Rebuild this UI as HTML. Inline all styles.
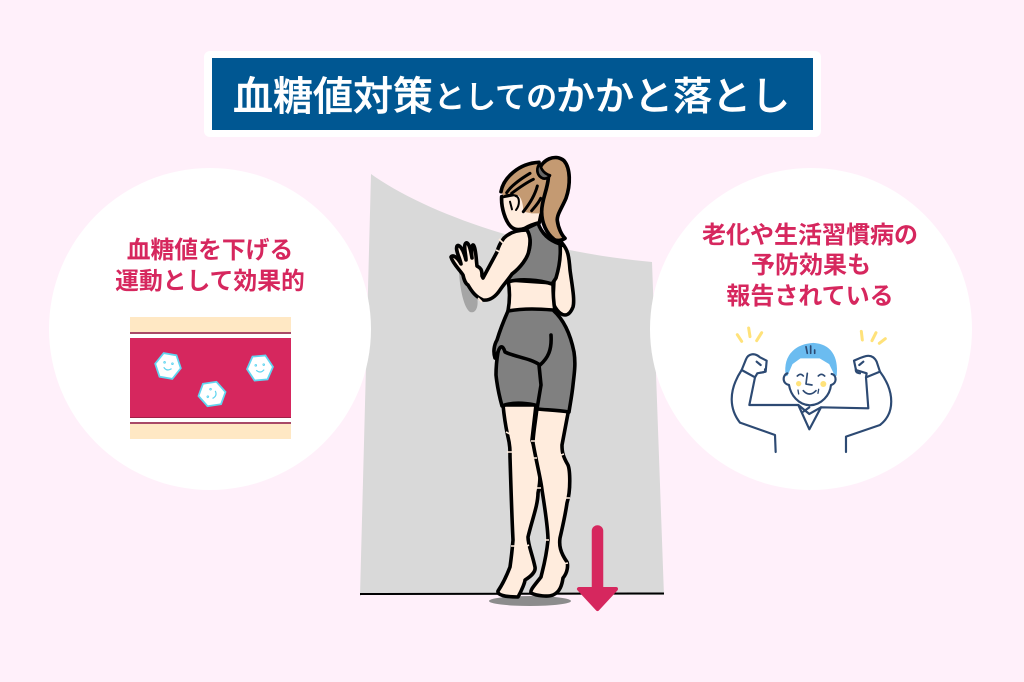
<!DOCTYPE html>
<html lang="ja"><head><meta charset="utf-8"><style>
html,body{margin:0;padding:0;background:#fff0fa}
svg{display:block}
text{font-family:"Liberation Sans","Noto Sans CJK JP",sans-serif;font-weight:700}
.t text{font-weight:500;stroke:#fff;stroke-width:.5}
</style></head><body>
<svg width="1024" height="682" viewBox="0 0 1024 682" xmlns="http://www.w3.org/2000/svg">
<rect width="1024" height="682" fill="#fff0fa"/>
<path d="M371 174 C430 216 540 252 652 262 L664 596 L360 596 Z" fill="#d9d9d9"/>
<circle cx="210" cy="329" r="161" fill="#fff"/>
<circle cx="811" cy="329" r="161" fill="#fff"/>
<rect x="204" y="51" width="617" height="86" rx="6" fill="#fff"/>
<rect x="212" y="58" width="601" height="72" fill="#005792"/>
<g class="t" fill="#fff">
<text y="110" font-size="40" x="233">血糖値対策</text>
<text y="108" font-size="31" x="434">としての</text>
<text y="110" font-size="39" x="556">かかと落とし</text>
</g>

<g fill="#d6275e" font-size="23.8" text-anchor="middle">
<text x="210" y="258">血糖値を下げる</text>
<text x="210" y="289">運動として効果的</text>
<text x="810" y="243" font-size="24">老化や生活習慣病の</text>
<text x="811" y="273" font-size="24">予防効果も</text>
<text x="810" y="304" font-size="24">報告されている</text>
</g>

<!-- vessel -->
<rect x="130" y="317" width="161" height="122" fill="#ffe8c4"/>
<rect x="130" y="332" width="161" height="2" fill="#a84a68"/>
<rect x="130" y="334" width="161" height="4" fill="#fff"/>
<rect x="130" y="338" width="161" height="80" fill="#d6275e"/>
<rect x="130" y="417" width="161" height="1" fill="#a02048"/>
<rect x="130" y="418" width="161" height="4" fill="#fff"/>
<rect x="130" y="422" width="161" height="2" fill="#a84a68"/>
<g fill="#fff" stroke="#62d5f0" stroke-width="1.8">
<g transform="translate(168,366) rotate(10)"><path d="M-13 0 L-6.5 -12 L6.5 -12 L13 0 L6.5 12 L-6.5 12 Z"/><circle cx="-4" cy="-3" r=".8" stroke-width="1"/><circle cx="4" cy="-3" r=".8" stroke-width="1"/><path d="M-4 2 Q0 6 4 2" fill="none" stroke-width="1.2"/></g>
<g transform="translate(212,394) rotate(-70)"><path d="M-13 0 L-6.5 -12 L6.5 -12 L13 0 L6.5 12 L-6.5 12 Z"/><circle cx="-4" cy="-3" r=".8" stroke-width="1"/><circle cx="4" cy="-3" r=".8" stroke-width="1"/><path d="M-4 2 Q0 6 4 2" fill="none" stroke-width="1.2"/></g>
<g transform="translate(260,368) rotate(-5)"><path d="M-13 0 L-6.5 -12 L6.5 -12 L13 0 L6.5 12 L-6.5 12 Z"/><circle cx="-4" cy="-3" r=".8" stroke-width="1"/><circle cx="4" cy="-3" r=".8" stroke-width="1"/><path d="M-4 2 Q0 6 4 2" fill="none" stroke-width="1.2"/></g>
</g>

<!-- man -->
<g transform="translate(720,320) scale(.3333)" fill="none" stroke="#2d4a73" stroke-width="6.5" stroke-linecap="round" stroke-linejoin="round">
<g stroke="#ffe27a" stroke-width="9"><path d="M52 44 L65 64"/><path d="M86 24 L90 50"/><path d="M125 38 L110 62"/><path d="M424 34 L427 60"/><path d="M468 38 L456 62"/><path d="M496 56 L478 70"/></g>
<path d="M200 165 C192 100 235 75 280 72 C330 75 352 110 347 165 L330 130 L300 112 L240 112 L215 130 Z" fill="#6bbcf0" stroke="#6bbcf0"/>
<path d="M202 160 C188 165 185 190 207 195 C212 225 235 255 270 256 C305 255 330 225 333 195 C352 190 350 165 335 162" />
<circle cx="236" cy="191" r="8" fill="#ffe27a" stroke="none"/><circle cx="310" cy="192" r="9" fill="#ffe27a" stroke="none"/>
<path d="M232 168 Q242 158 250 168 M295 168 Q304 158 314 168 M262 160 L258 192 L276 195 M250 212 Q268 232 288 212" stroke-width="5"/>
<path d="M234 210 L236 222 M296 208 L294 220" stroke-width="4"/>
<path d="M258 80 L262 100 M272 78 L272 100 M284 90 L284 100" stroke-width="5"/>
<path d="M167 396 L165 345 L60 308 C30 270 22 215 65 150 L105 172 L88 255 L235 255 L268 328 L303 262 L445 265 L438 172 L480 155 C525 215 525 280 480 315 L378 350 L378 396"/>
<path d="M235 255 L268 282 L303 262 M250 275 L268 262"/>
<path d="M65 150 L78 118 C85 100 105 98 120 112 L140 122 L137 155 L112 160 L105 172"/>
<path d="M438 172 L440 160 L408 150 L402 122 C430 110 455 95 470 125 L480 155"/>
<path d="M122 135 L110 125 M418 135 L430 125 M408 148 Q405 158 420 160 M135 148 Q138 158 122 158"/>
</g>

<!-- wall shadow -->
<path d="M459 272 C460 290 464 308 470 312 C476 314 479 306 477 297 L468 272 Z" fill="#a5a5a5"/>
<!-- ground -->
<rect x="361" y="595" width="304" height="87" fill="#fff0fa"/>
<path d="M360 594 L664 593.5" stroke="#000" stroke-width="2" fill="none"/>
<ellipse cx="530" cy="601" rx="41" ry="5" fill="#8c8c8c"/>

<!-- figure -->
<g stroke="#000" stroke-width="3.6" stroke-linejoin="round" stroke-linecap="round">
<path d="M503 405 C505 425 507 432 508 437 C510 445 510 450 510 457 C511 490 512 520 513 540 C512 552 511 560 510 567 C505 580 500 588 498 591 C497 595 505 597 518 597 C522 590 525 582 525 580 C530 577 536 572 535 567 C532 553 528 545 528 537 C532 520 538 505 538 493 C541 480 540 470 540 465 C537 452 533 445 532 440 L536 405 Z" fill="#ffecdd"/>
<path d="M537 408 C535 425 533 435 533 443 C537 465 541 480 542 490 C546 515 548 530 548 540 C546 560 542 572 541 577 C534 586 530 590 531 593 C537 596 548 597 553 595 C560 592 562 585 563 578 C568 572 568 565 567 562 C560 552 559 545 560 538 C563 525 566 510 567 503 C571 490 570 470 568 465 C562 455 562 450 562 445 L569 408 Z" fill="#ffecdd"/>
<path d="M562 243 C568 250 569 256 570 270 C572 285 575 300 573 307 C571 312 568 315 565 315 C560 315 553 307 553 300 L555 260 Z" fill="#ffecdd"/>
<path d="M508 280 L553 283 C553 295 554 305 555 311 L508 311 C510 300 510 290 508 280 Z" fill="#ffecdd"/>
<path d="M525 229 L538 223 C541 232 548 240 560 244 C561 255 559 268 556 278 L552 284 C540 280 520 278 508 282 C508 276 512 272 518 268 C526 260 531 250 530 240 Z" fill="#808080"/>
<path d="M527 230 C518 230 510 232 504 238 C500 243 498 248 497 252 L483 278 L482 276 C482 268 480 268 477 266 C476 258 476 250 474 246 C472 242 471 250 472 258 C470 246 468 242 466 243 C463 245 466 254 466 260 C463 248 459 244 457 246 C455 250 460 258 461 264 C458 258 453 254 451 257 C453 264 460 270 463 275 C464 280 466 284 468 285 C472 292 476 297 483 300 C490 301 496 296 500 290 C504 284 508 280 512 274 C520 268 528 258 529 250 C531 240 530 235 527 230 Z" fill="#ffecdd"/>
<path d="M508 311 C525 308 540 309 553 310 C562 318 570 332 574 352 C576 365 574 375 573 385 C572 395 570 405 569 412 C558 410 547 410 537 409 L535 405 C525 403 512 402 502 406 C499 395 497 385 496 375 C496 365 497 358 498 352 L495 358 C493 352 494 345 497 340 C500 330 504 320 508 311 Z" fill="#808080"/>
<path d="M498 352 C500 345 503 345 505 352 C515 357 530 358 540 365 C548 358 552 350 551 335 M539 365 L541 385 L537 409" fill="none"/>
<!-- head in zoom coordinates -->
<g transform="translate(440,150) scale(.3333)" stroke-width="11">
<path d="M185 140 C183 170 195 215 215 232 C225 240 240 240 255 235 C270 225 290 220 298 218 L310 160 L240 130 Z" fill="#ffecdd"/>
<path d="M183 125 C190 85 235 40 297 37 L325 85 C315 120 305 160 300 190 L275 190 L250 185 C250 165 245 140 232 135 C215 130 200 130 190 137 Z" fill="#c49a72" stroke="none"/>
<path d="M183 125 C190 85 235 40 297 37" fill="none"/>
<path d="M298 60 C305 30 345 10 372 32 C392 55 392 105 378 145 C365 175 350 195 352 212 C355 235 365 255 375 265 C365 272 350 274 342 268 C320 250 305 220 305 185 C305 150 322 120 325 85 Z" fill="#c49a72"/>
<path d="M200 128 C215 105 245 85 270 70 M215 130 C235 115 255 100 280 88 M250 185 C270 160 285 135 292 108 M275 182 C285 170 295 160 302 145" fill="none" stroke-width="9"/>
<path d="M226 138 C240 140 240 165 228 180 M210 155 L216 178" fill="none" stroke-width="6"/>
<path d="M296 45 C288 60 292 78 308 85 C318 88 328 82 330 76 C315 72 303 60 300 42 Z" fill="#666" stroke-width="8"/>
</g>
</g>
<!-- white gaps -->
<g stroke="#ffecdd" stroke-width="1.6" fill="none">
<path d="M506 432 L510 434 M507 452 L512 452 M531 441 L535 441 M533 458 L537 458 M537 488 L541 488 M511 546 L515 546 M525 547 L529 545 M545 540 L549 540 M558 456 L564 454 M566 498 L570 498 M562 564 L568 563 M499 239 L503 243 M496 250 L500 252 M478 298 L482 302"/>
</g>

<!-- arrow -->
<path d="M597.5 531 L597.5 592" stroke="#d6275e" stroke-width="11.5" stroke-linecap="round"/>
<path d="M579 589 L616 589 L597.5 609 Z" fill="#d6275e" stroke="#d6275e" stroke-width="4" stroke-linejoin="round"/>
</svg>
</body></html>
